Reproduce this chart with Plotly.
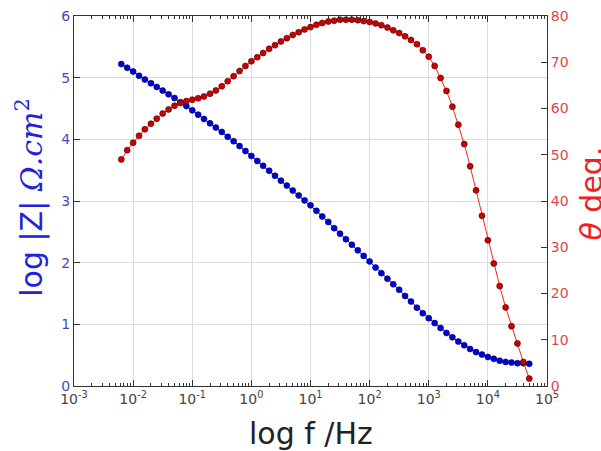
import plotly.graph_objects as go

# Frequencies (Hz), 10 points per decade
freq_hz = [
    0.00631, 0.00794,
    0.0100, 0.0126, 0.0158, 0.0200, 0.0251, 0.0316, 0.0398, 0.0501, 0.0631, 0.0794,
    0.100, 0.126, 0.158, 0.200, 0.251, 0.316, 0.398, 0.501, 0.631, 0.794,
    1.00, 1.26, 1.58, 2.00, 2.51, 3.16, 3.98, 5.01, 6.31, 7.94,
    10.0, 12.6, 15.8, 20.0, 25.1, 31.6, 39.8, 50.1, 63.1, 79.4,
    100, 126, 158, 200, 251, 316, 398, 501, 631, 794,
    1000, 1259, 1585, 1995, 2512, 3162, 3981, 5012, 6310, 7943,
    10000, 12589, 15849, 19953, 25119, 31623, 39811, 50119,
]

log_z = [
    5.22, 5.16, 5.10, 5.03, 4.97, 4.91, 4.85, 4.79, 4.73, 4.67,
    4.60, 4.54, 4.47, 4.40, 4.33, 4.26, 4.19, 4.12, 4.04, 3.97,
    3.89, 3.81, 3.73, 3.65, 3.57, 3.49, 3.41, 3.33, 3.25, 3.17,
    3.09, 3.01, 2.93, 2.84, 2.75, 2.66, 2.56, 2.47, 2.38, 2.29,
    2.20, 2.11, 2.02, 1.92, 1.83, 1.74, 1.65, 1.56, 1.46, 1.37,
    1.27, 1.18, 1.10, 1.02, 0.94, 0.86, 0.79, 0.72, 0.66, 0.60,
    0.55, 0.51, 0.47, 0.44, 0.41, 0.39, 0.38, 0.37, 0.37, 0.36,
]

theta_deg = [
    49.0, 51.0, 52.6, 54.1, 55.5, 56.7, 57.8, 58.9, 59.8, 60.6,
    61.2, 61.6, 61.9, 62.2, 62.6, 63.2, 63.9, 64.8, 65.9, 67.0,
    68.1, 69.2, 70.2, 71.1, 72.0, 72.9, 73.7, 74.5, 75.2, 75.9,
    76.5, 77.1, 77.6, 78.1, 78.5, 78.8, 79.0, 79.2, 79.2, 79.2,
    79.1, 78.9, 78.7, 78.4, 78.0, 77.5, 76.9, 76.3, 75.6, 74.8,
    73.9, 72.6, 71.2, 69.2, 66.6, 63.8, 60.4, 56.5, 52.3, 47.5,
    42.3, 36.8, 31.5, 26.5, 21.6, 17.0, 12.9, 9.2, 5.2, 1.6,
]

x_tick_vals = [0.001, 0.01, 0.1, 1, 10, 100, 1000, 10000, 100000]
x_tick_text = ["10<sup>-3</sup>", "10<sup>-2</sup>", "10<sup>-1</sup>", "10<sup>0</sup>",
               "10<sup>1</sup>", "10<sup>2</sup>", "10<sup>3</sup>", "10<sup>4</sup>",
               "10<sup>5</sup>"]

FONT = "DejaVu Sans"
FRAME = "#333333"
GRID = "#dcdcdc"

fig = go.Figure()
fig.add_trace(go.Scatter(
    x=freq_hz, y=log_z, mode="lines+markers", yaxis="y",
    line=dict(color="#0000ff", width=1),
    marker=dict(size=6, color="#0000dd", line=dict(color="#000044", width=0.6)),
    showlegend=False,
))
fig.add_trace(go.Scatter(
    x=freq_hz, y=theta_deg, mode="lines+markers", yaxis="y2",
    line=dict(color="#ff2020", width=1),
    marker=dict(size=6, color="#cc0000", line=dict(color="#440000", width=0.6)),
    showlegend=False,
))

fig.update_layout(
    width=601, height=451,
    margin=dict(l=74, r=54, t=16, b=65, autoexpand=False),
    paper_bgcolor="white", plot_bgcolor="white",
    font=dict(family=FONT, size=14, color="#333333"),
    xaxis=dict(
        type="log", range=[-3, 5], automargin=False,
        tickmode="array", tickvals=x_tick_vals, ticktext=x_tick_text,
        ticks="inside", ticklen=6, tickcolor=FRAME,
        showline=True, linecolor=FRAME, linewidth=1, mirror="ticks",
        showgrid=True, gridcolor=GRID, gridwidth=1,
        zeroline=False,
        tickfont=dict(size=14, color="#444444"),
        minor=dict(ticks="inside", ticklen=3, tickcolor=FRAME, dtick="D1", showgrid=False),
    ),
    yaxis=dict(
        range=[0, 6], dtick=1, automargin=False,
        ticks="inside", ticklen=6, tickcolor=FRAME,
        showline=True, linecolor=FRAME, linewidth=1,
        showgrid=True, gridcolor=GRID, gridwidth=1,
        zeroline=False,
        tickfont=dict(size=14, color="#4646c8"),
    ),
    yaxis2=dict(
        range=[0, 80], dtick=10, overlaying="y", side="right", automargin=False,
        ticks="inside", ticklen=6, tickcolor=FRAME,
        showline=True, linecolor=FRAME, linewidth=1,
        showgrid=False, zeroline=False,
        tickfont=dict(size=14, color="#e04848"),
    ),
    annotations=[
        dict(text="log f /Hz", xref="paper", yref="paper", x=0.5, y=-0.075,
             xanchor="center", yanchor="top", showarrow=False,
             font=dict(family=FONT, size=30, color="#222222")),
        dict(text="log |Z| <span style='font-family:DejaVu Serif'><i>Ω.cm</i><sup>2</sup></span>",
             xref="paper", yref="paper",
             x=-0.092, y=0.51, xanchor="center", yanchor="middle", textangle=-90,
             showarrow=False, font=dict(family=FONT, size=30, color="#2222dd")),
        dict(text="<i>θ</i> deg.", xref="paper", yref="paper",
             x=1.095, y=0.52, xanchor="center", yanchor="middle", textangle=-90,
             showarrow=False, font=dict(family=FONT, size=30, color="#ee2222")),
    ],
)

fig.write_html("out.html", config={"displayModeBar": False},
               post_script="document.body.style.margin='0';document.body.style.padding='0';")
